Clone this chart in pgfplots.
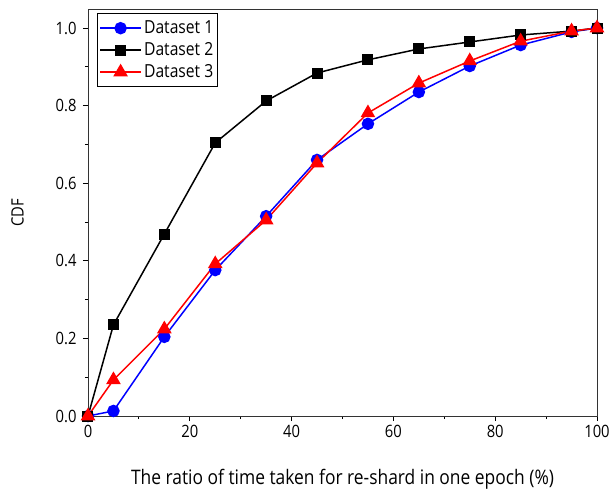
\documentclass[border=0pt]{standalone}
\usepackage{pgfplots}
\pgfplotsset{compat=1.18}
\usepackage{fontspec}
\setmainfont{Open Sans}[FakeStretch=0.87]

\begin{document}
\begin{tikzpicture}
\useasboundingbox (-88pt,-74pt) rectangle (524pt,416pt);
\begin{axis}[
  scale only axis, width=509pt, height=407pt,
  xmin=0, xmax=100, ymin=0, ymax=1.049,
  xtick={0,20,...,100}, minor xtick={10,30,...,90},
  ytick={0,0.2,...,1.0}, minor ytick={0.1,0.3,...,0.9},
  yticklabel style={/pgf/number format/fixed,/pgf/number format/fixed zerofill,/pgf/number format/precision=1},
  /pgf/number format/assume math mode=true,
  tick align=outside, xtick pos=bottom, ytick pos=left,
  major tick length=5pt, minor tick length=3pt,
  tick style={black, line width=0.9pt},
  axis line style={line width=0.9pt, black!80},
  ticklabel style={font=\fontsize{17}{20}\selectfont},
  xticklabel style={yshift=-1pt},
  yticklabel style={xshift=-3pt},
  xlabel={The ratio of time taken for re-shard in one epoch (\%)},
  ylabel={CDF},
  xlabel style={font=\fontsize{20}{24}\selectfont, yshift=-24pt},
  ylabel style={font=\fontsize{17}{20}\selectfont, yshift=25pt},
  clip=false,
  legend style={at={(0.017,0.99)}, anchor=north west, draw=black, line width=0.9pt,
    font=\fontsize{18}{21}\selectfont, row sep=3.5pt, inner xsep=2pt, inner ysep=5.5pt,
    nodes={inner sep=2pt}},
  legend cell align=left,
  legend image code/.code={\draw[#1, line width=2pt] (0pt,0pt) -- (41pt,0pt); \path[#1] plot coordinates {(20.5pt,0pt)};},
  every axis plot/.append style={line width=1.5pt},
]
\addplot[blue, mark=*, mark size=5.5pt, mark options={solid}] coordinates {
(0,0) (5,0.013) (15,0.204) (25,0.376) (35,0.515) (45,0.660) (55,0.753) (65,0.835) (75,0.902) (85,0.956) (95,0.990) (100,1.0)
};
\addlegendentry{Dataset 1}
\addplot[black, mark=square*, mark size=4.75pt] coordinates {
(0,0) (5,0.235) (15,0.469) (25,0.704) (35,0.812) (45,0.884) (55,0.918) (65,0.946) (75,0.964) (85,0.982) (95,0.992) (100,1.0)
};
\addlegendentry{Dataset 2}
\addplot[red, mark=triangle*, mark size=7pt] coordinates {
(0,0) (5,0.093) (15,0.224) (25,0.392) (35,0.505) (45,0.652) (55,0.781) (65,0.858) (75,0.915) (85,0.966) (95,0.992) (100,1.0)
};
\addlegendentry{Dataset 3}
\end{axis}
\end{tikzpicture}
\end{document}
